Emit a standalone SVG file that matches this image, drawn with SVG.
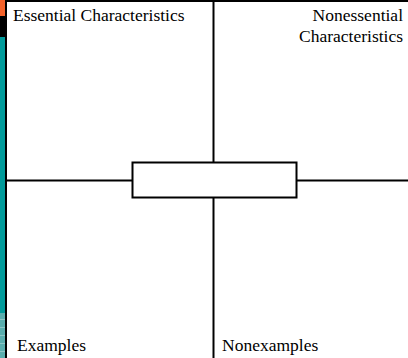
<svg xmlns="http://www.w3.org/2000/svg" width="408" height="358" viewBox="0 0 408 358">
<style>
.ln{stroke:#000;stroke-width:2;fill:none}
.t{font-family:"Liberation Serif","Times New Roman",serif;font-size:17.5px;fill:#000}
</style>
<defs>
<pattern id="grid" width="5" height="8" patternUnits="userSpaceOnUse">
<rect width="5" height="8" fill="#5aaeae"/>
<rect y="7" width="5" height="1" fill="#8cc6c6"/>
</pattern>
</defs>
<rect width="408" height="358" fill="#fff"/>
<g id="sidebar">
<rect x="0" y="0" width="5" height="16" fill="#f4622a"/>
<rect x="0" y="16" width="5" height="21" fill="#000"/>
<rect x="0" y="37" width="5" height="276" fill="#009a9a"/>
<rect x="0" y="313" width="5" height="45" fill="url(#grid)"/>
</g>
<g id="connectors">
<line class="ln" x1="6" y1="0" x2="6" y2="358"/>
<line class="ln" x1="6" y1="1" x2="408" y2="1"/>
<line class="ln" x1="213.5" y1="0" x2="213.5" y2="162.5"/>
<line class="ln" x1="213.5" y1="197.5" x2="213.5" y2="358"/>
<line class="ln" x1="6" y1="180.5" x2="132.5" y2="180.5"/>
<line class="ln" x1="296.5" y1="180.5" x2="408" y2="180.5"/>
</g>
<g id="center">
<rect class="ln" x="132.5" y="162.5" width="164" height="35" fill="#fff"/>
</g>
<g id="essential">
<text class="t" x="13" y="21">Essential Characteristics</text>
</g>
<g id="nonessential">
<text class="t" x="403" y="21" text-anchor="end">Nonessential</text>
<text class="t" x="403" y="42" text-anchor="end">Characteristics</text>
</g>
<g id="examples">
<text class="t" x="17" y="351">Examples</text>
</g>
<g id="nonexamples">
<text class="t" x="222" y="351">Nonexamples</text>
</g>
</svg>
